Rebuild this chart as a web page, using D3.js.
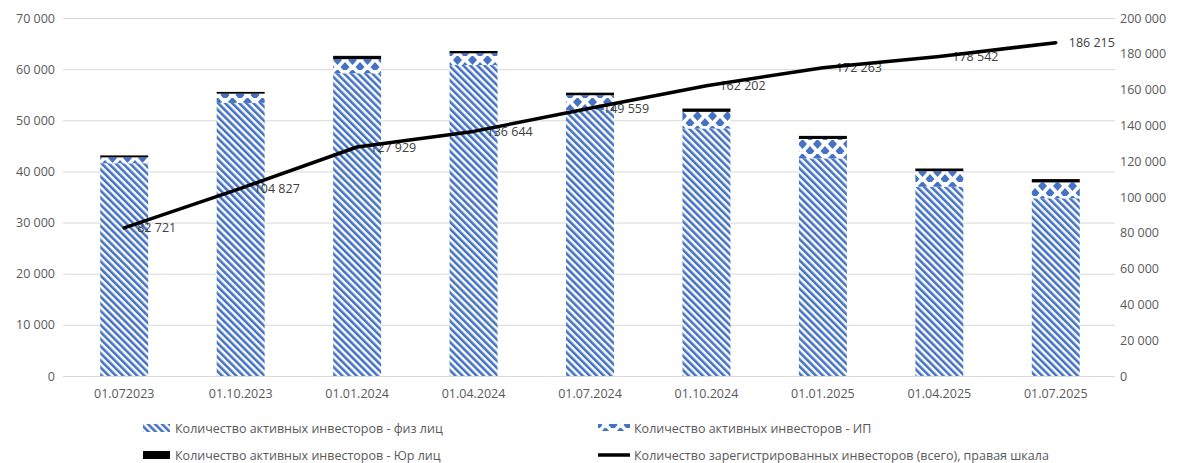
<!DOCTYPE html>
<meta charset="utf-8">
<style>
body { margin:0; background:#fff; font-family:"Open Sans", Arial, sans-serif; }
</style>
<body>
<script src="https://d3js.org/d3.v7.min.js"></script>
<script>
// data
var dates = ["01.072023","01.10.2023","01.01.2024","01.04.2024","01.07.2024","01.10.2024","01.01.2025","01.04.2025","01.07.2025"];
var fizValues = [41600, 53400, 59200, 60800, 52000, 48400, 42550, 37000, 34750];
var ipValues  = [1150, 1800, 2750, 2300, 2900, 3250, 3800, 3050, 3100];
var urValues  = [380, 350, 650, 450, 500, 650, 600, 520, 650];
var totalRegistered = [82721, 104827, 127929, 136644, 149559, 162202, 172263, 178542, 186215];
var leftTicks = [0,10000,20000,30000,40000,50000,60000,70000];
var rightTicks = [0,20000,40000,60000,80000,100000,120000,140000,160000,180000,200000];
var legendNames = ["Количество активных инвесторов - физ лиц",
                   "Количество активных инвесторов - ИП",
                   "Количество активных инвесторов - Юр лиц",
                   "Количество зарегистрированных инвесторов (всего), правая шкала"];

var W = 1191, H = 463;
var blue = "#4472C4", grey = "#595959";
var fmt = function(v){ return d3.format(",")(v).replace(/,/g, " "); };

var svg = d3.select("body").append("svg").attr("width", W).attr("height", H);

var defs = svg.append("defs");
// diagonal stripes for физ лица
var p1 = defs.append("pattern").attr("id","stripes").attr("patternUnits","userSpaceOnUse")
    .attr("width",5).attr("height",5).attr("patternTransform","rotate(-45)");
p1.append("rect").attr("width",5).attr("height",5).attr("fill","#fff");
p1.append("rect").attr("width",2.6).attr("height",5).attr("fill",blue);
// diamonds for ИП
var p2 = defs.append("pattern").attr("id","diamonds").attr("patternUnits","userSpaceOnUse")
    .attr("width",15).attr("height",14);
p2.append("rect").attr("width",15).attr("height",14).attr("fill","#fff");
p2.append("path").attr("fill",blue)
  .attr("d","M7.5,-1 L12,4 L7.5,9 L3,4 Z M0,6 L4.5,11 L0,16 L-4.5,11 Z M15,6 L19.5,11 L15,16 L10.5,11 Z");

var x = d3.scaleBand().domain(dates).range([66, 1114]).paddingInner(0.588).paddingOuter(0.294);
var y = d3.scaleLinear().domain([0,70000]).range([376, 18]);
var y2 = d3.scaleLinear().domain([0,200000]).range([376, 18]);

// gridlines
svg.append("g").selectAll("line").data(leftTicks).join("line")
  .attr("x1",63).attr("x2",1115)
  .attr("y1",function(d){return y(d)+0.5;}).attr("y2",function(d){return y(d)+0.5;})
  .attr("stroke","#d9d9d9").attr("stroke-width",1);

// left axis
var ax = svg.append("g").attr("transform","translate(55,0)")
  .call(d3.axisLeft(y).tickValues(leftTicks).tickFormat(fmt).tickSize(0).tickPadding(0));
ax.select(".domain").remove();
ax.selectAll("text").attr("fill",grey).style("font-size","12.5px").style("font-family","Open Sans, Arial");

// right axis
var ax2 = svg.append("g").attr("transform","translate(1120,0)")
  .call(d3.axisRight(y2).tickValues(rightTicks).tickFormat(fmt).tickSize(0).tickPadding(0));
ax2.select(".domain").remove();
ax2.selectAll("text").attr("fill",grey).style("font-size","12.5px").style("font-family","Open Sans, Arial");

// x labels
svg.append("g").selectAll("text").data(dates).join("text")
  .attr("x",function(d){return x(d)+x.bandwidth()/2;}).attr("y",398)
  .attr("text-anchor","middle").attr("fill",grey)
  .style("font-size","12.5px").text(function(d){return d;});

// stacked bars
var rows = dates.map(function(d,i){ return {date:d, fiz:fizValues[i], ip:ipValues[i], ur:urValues[i]}; });
var stack = d3.stack().keys(["fiz","ip","ur"])(rows);
var fills = {fiz:"url(#stripes)", ip:"url(#diamonds)", ur:"#000"};
svg.append("g").selectAll("g").data(stack).join("g")
  .attr("fill",function(s){return fills[s.key];})
  .selectAll("rect").data(function(s){return s;}).join("rect")
  .attr("x",function(d){return x(d.data.date);})
  .attr("width",x.bandwidth())
  .attr("y",function(d){return y(d[1]);})
  .attr("height",function(d){return y(d[0])-y(d[1]);});

// data labels for the line
svg.append("g").selectAll("text").data(totalRegistered).join("text")
  .attr("x",function(d,i){return x(dates[i])+x.bandwidth()/2+13;})
  .attr("y",function(d){return y2(d)+4.5;})
  .attr("fill","#404040").style("font-size","12.5px")
  .text(fmt);

// line
var line = d3.line()
  .x(function(d,i){return x(dates[i])+x.bandwidth()/2;})
  .y(function(d){return y2(d);});
svg.append("path").datum(totalRegistered)
  .attr("d",line).attr("fill","none").attr("stroke","#000").attr("stroke-width",3.5)
  .attr("stroke-linejoin","round").attr("stroke-linecap","round");

// legend
var leg = [
  {name:legendNames[0], x:143, y:428, type:"fiz"},
  {name:legendNames[1], x:598, y:428, type:"ip"},
  {name:legendNames[2], x:143, y:455, type:"ur"},
  {name:legendNames[3], x:598, y:455, type:"line"}
];
var lg = svg.append("g").selectAll("g").data(leg).join("g")
  .attr("transform",function(d){return "translate("+d.x+","+d.y+")";});
lg.each(function(d){
  var g = d3.select(this);
  if (d.type === "line") {
    g.append("line").attr("x1",0).attr("x2",32).attr("y1",0).attr("y2",0)
      .attr("stroke","#000").attr("stroke-width",3.5);
  } else if (d.type === "ip") {
    g.append("rect").attr("x",0).attr("y",-4).attr("width",32).attr("height",7).attr("fill","url(#diamonds)");
  } else {
    g.append("rect").attr("x",0).attr("y",-4).attr("width",27).attr("height",8).attr("fill",fills[d.type]);
  }
  g.append("text").attr("x", d.type==="fiz"||d.type==="ur" ? 32 : 36).attr("y",4.5)
    .attr("fill",grey).style("font-size","12.5px").text(d.name);
});
</script>
</body>
